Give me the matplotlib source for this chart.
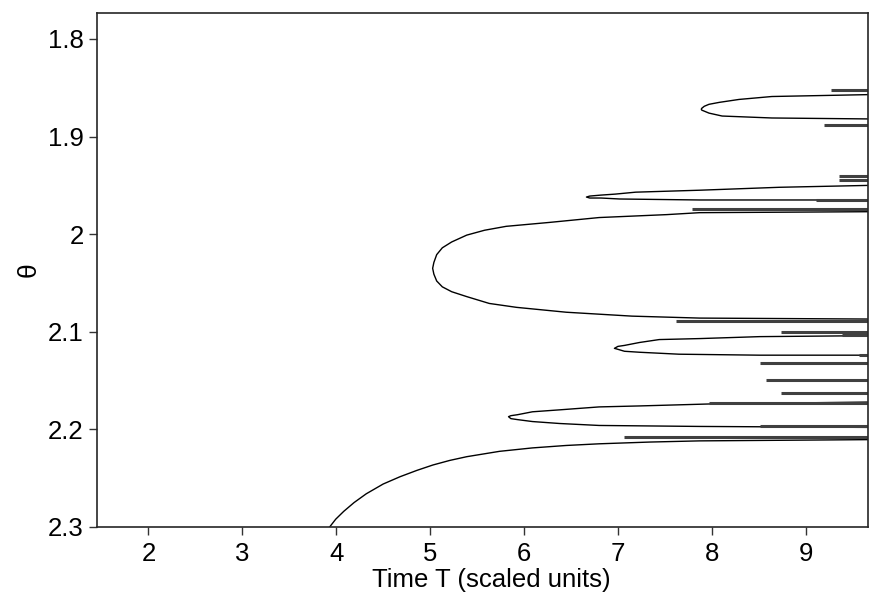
import matplotlib
matplotlib.use("Agg")
import matplotlib.pyplot as plt

# Branches (T, theta)
base_t = [3.93, 3.995, 4.08, 4.19, 4.32, 4.50, 4.68, 4.86, 5.03, 5.21, 5.39, 5.74, 6.09,
          6.45, 6.80, 7.34, 7.87, 9.70]
base_theta = [2.300, 2.292, 2.284, 2.275, 2.266, 2.256, 2.2485, 2.242, 2.2365, 2.2318, 2.228,
              2.2225, 2.219, 2.2165, 2.2148, 2.213, 2.2118, 2.2105]

loop1_t = [9.70, 8.64, 8.29, 8.08, 7.97, 7.92, 7.894, 7.888,
           7.894, 7.92, 7.97, 8.11, 8.64, 9.70]
loop1_theta = [1.857, 1.859, 1.862, 1.865, 1.867, 1.869, 1.871, 1.872,
               1.873, 1.874, 1.876, 1.879, 1.881, 1.882]

loop2_t = [9.70, 8.72, 7.87, 7.19, 6.97, 6.82, 6.70, 6.665,
           6.70, 6.82, 7.02, 7.87, 9.70]
loop2_theta = [1.950, 1.952, 1.955, 1.957, 1.959, 1.960, 1.961, 1.962,
               1.963, 1.963, 1.964, 1.965, 1.965]

loop3_t = [9.70, 7.87, 7.52, 6.80, 6.27, 5.81, 5.58, 5.39, 5.23, 5.13, 5.07, 5.04, 5.027,
           5.04, 5.07, 5.13, 5.23, 5.39, 5.63, 5.92, 6.45, 7.15, 7.87, 9.70]
loop3_theta = [1.977, 1.978, 1.980, 1.983, 1.988, 1.992, 1.996, 2.001, 2.008, 2.014, 2.021, 2.029, 2.035,
               2.041, 2.048, 2.054, 2.059, 2.064, 2.071, 2.075, 2.080, 2.084, 2.086, 2.087]

loop4_t = [9.70, 8.51, 7.87, 7.44, 7.23, 7.07, 7.00, 6.963,
           7.00, 7.07, 7.23, 7.65, 8.51, 9.70]
loop4_theta = [2.104, 2.105, 2.107, 2.108, 2.111, 2.114, 2.115, 2.117,
               2.118, 2.120, 2.121, 2.123, 2.124, 2.124]

loop5_t = [9.70, 7.97, 7.23, 6.80, 6.38, 6.09, 5.93, 5.86, 5.835,
           5.86, 5.93, 6.09, 6.38, 6.80, 7.87, 9.70]
loop5_theta = [2.172, 2.174, 2.176, 2.177, 2.180, 2.182, 2.185, 2.186, 2.187,
               2.189, 2.190, 2.192, 2.194, 2.196, 2.197, 2.198]

# dense (oscillating) branches near the right edge
dense_start_t = [9.27, 9.20, 9.36, 9.36, 9.11, 7.79, 7.62, 8.74, 9.39, 9.57,
                 8.51, 8.58, 8.74, 7.97, 8.51, 7.07]
dense_end_t = [9.70] * 16
dense_theta = [1.852, 1.888, 1.940, 1.945, 1.965, 1.974, 2.089, 2.100, 2.103, 2.124,
               2.132, 2.149, 2.163, 2.173, 2.197, 2.208]

plt.rcParams['font.family'] = ['Liberation Sans', 'DejaVu Sans']

fig = plt.figure(figsize=(8.69, 5.97), dpi=100)
ax = fig.add_axes([0.1116, 0.1173, 0.8874, 0.8610])

for t, th in [(base_t, base_theta), (loop1_t, loop1_theta), (loop2_t, loop2_theta),
              (loop3_t, loop3_theta), (loop4_t, loop4_theta), (loop5_t, loop5_theta)]:
    ax.plot(t, th, color='black', linewidth=1.0)

for t0, t1, th in zip(dense_start_t, dense_end_t, dense_theta):
    ax.plot([t0, t1], [th, th], color='0.25', linewidth=2.2, solid_capstyle='butt')

ax.set_xlim(1.452, 9.665)
ax.set_ylim(2.3, 1.7734)

ax.set_xticks([2, 3, 4, 5, 6, 7, 8, 9])
ax.set_xticklabels(['2', '3', '4', '5', '6', '7', '8', '9'])
ax.set_yticks([1.8, 1.9, 2.0, 2.1, 2.2, 2.3])
ax.set_yticklabels(['1.8', '1.9', '2', '2.1', '2.2', '2.3'])

ax.tick_params(axis='both', labelsize=18.5, direction='out', length=5.5, width=1.0, color='0.2')
ax.tick_params(axis='x', pad=5)
ax.tick_params(axis='y', pad=4)

for s in ax.spines.values():
    s.set_linewidth(1.2)
    s.set_color('0.15')

ax.set_xlabel('Time T (scaled units)', fontsize=18.5)
ax.xaxis.set_label_coords(0.512, -0.079)
ax.xaxis.label.set_va('top')
ax.set_ylabel('θ', fontsize=19)
ax.yaxis.set_label_coords(-0.089, 0.5)
ax.yaxis.label.set_va('center')

fig.savefig('out.png', dpi=100)
